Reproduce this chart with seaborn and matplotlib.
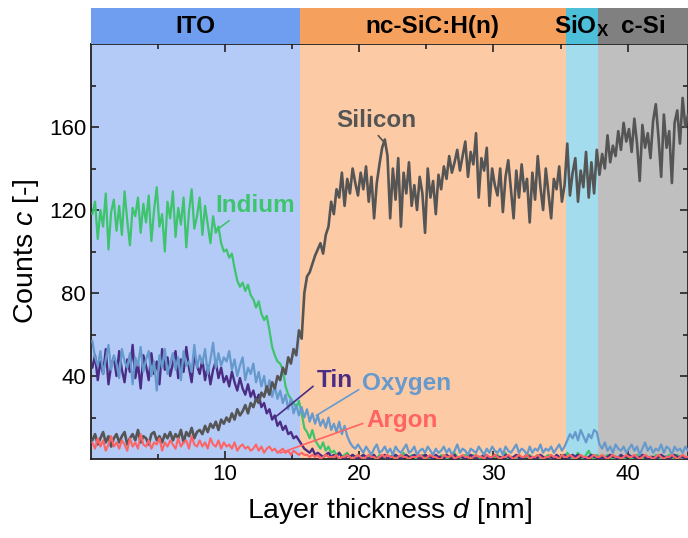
import numpy as np
import pandas as pd
import matplotlib
matplotlib.use("Agg")
import matplotlib.pyplot as plt
import seaborn as sns

# ---- depth profile data (counts vs. layer thickness) ----
depth_start, depth_step, n_points = 0.1, 0.2, 223
depth = np.round(depth_start + depth_step * np.arange(n_points), 2)

silicon = [
    9, 12, 7, 10, 13, 8, 11, 6, 10, 12,
    8, 11, 13, 7, 10, 12, 9, 14, 8, 11,
    10, 7, 12, 13, 9, 11, 8, 12, 10, 13,
    9, 12, 10, 14, 8, 13, 11, 15, 10, 13,
    14, 12, 16, 13, 17, 15, 18, 14, 19, 17,
    20, 18, 22, 19, 24, 21, 23, 26, 22, 27,
    25, 29, 27, 32, 30, 35, 31, 37, 34, 40,
    38, 44, 41, 49, 46, 53, 50, 62, 58, 80,
    88, 90, 94, 98, 101, 104, 99, 108, 112, 124,
    118, 130, 126, 138, 122, 135, 128, 140, 133, 127,
    138, 130, 141, 124, 136, 116, 133, 142, 150, 154,
    146, 116, 140, 125, 145, 112, 138, 128, 143, 122,
    132, 120, 136, 128, 109, 140, 126, 134, 118, 137,
    130, 141, 135, 146, 138, 143, 149, 139, 146, 153,
    136, 148, 142, 157, 126, 145, 139, 150, 122, 140,
    132, 127, 140, 119, 136, 144, 130, 116, 139, 126,
    142, 129, 135, 114, 138, 125, 146, 131, 120, 140,
    128, 116, 135, 130, 141, 124, 132, 152, 127, 138,
    145, 124, 139, 131, 148, 126, 143, 128, 149, 137,
    147, 140, 156, 143, 151, 146, 158, 149, 162, 153,
    159, 148, 164, 152, 134, 161, 150, 157, 145, 163,
    171, 155, 136, 166, 150, 158, 133, 162, 168, 152,
    174, 160, 166,
]

indium = [
    118, 124, 106, 120, 112, 128, 101, 119, 125, 110,
    122, 108, 129, 115, 103, 121, 117, 126, 109, 123,
    114, 127, 105, 120, 131, 112, 118, 100, 124, 116,
    129, 107, 121, 113, 126, 102, 119, 130, 111, 117,
    126, 108, 122, 113, 104, 117, 109, 112, 104, 100,
    101, 97, 99, 92, 86, 83, 85, 81, 84, 79,
    77, 73, 76, 70, 67, 69, 62, 54, 50, 47,
    46, 43, 35, 31, 29, 27, 25, 28, 22, 15,
    13, 10, 14, 9, 7, 5, 8, 4, 6, 3,
    4, 2, 3, 1, 2, 3, 1, 2, 1, 2,
    1, 2, 0, 1, 3, 1, 0, 2, 1, 1,
    0, 1, 2, 1, 0, 1, 3, 1, 0, 2,
    1, 0, 1, 2, 1, 1, 0, 2, 1, 0,
    2, 1, 0, 1, 1, 3, 1, 0, 1, 2,
    1, 0, 2, 1, 0, 1, 1, 2, 0, 1,
    1, 2, 0, 1, 3, 0, 1, 1, 0, 2,
    0, 1, 1, 2, 0, 1, 2, 0, 1, 1,
    2, 0, 1, 1, 0, 2, 1, 3, 1, 0,
    1, 3, 1, 0, 2, 4, 1, 0, 2, 1,
    0, 1, 2, 1, 0, 1, 1, 2, 0, 1,
    1, 0, 1, 2, 1, 0, 2, 1, 1, 0,
    2, 1, 0, 1, 1, 2, 0, 1, 2, 1,
    0, 1, 1,
]

tin = [
    44, 50, 38, 47, 41, 53, 36, 45, 49, 40,
    52, 43, 37, 48, 42, 55, 39, 46, 34, 50,
    45, 38, 51, 41, 47, 36, 53, 43, 49, 40,
    46, 52, 39, 48, 42, 54, 44, 37, 50, 45,
    41, 48, 38, 45, 36, 43, 47, 39, 44, 37,
    40, 35, 42, 37, 33, 39, 34, 31, 36, 30,
    33, 28, 31, 25, 27, 22, 24, 19, 21, 16,
    18, 14, 16, 12, 13, 10, 11, 9, 7, 5,
    4, 3, 5, 2, 3, 2, 1, 2, 3, 1,
    2, 1, 3, 1, 0, 2, 1, 2, 1, 0,
    1, 2, 1, 0, 1, 2, 0, 1, 1, 2,
    0, 1, 1, 2, 1, 0, 1, 2, 1, 1,
    2, 1, 0, 1, 2, 1, 1, 0, 2, 1,
    1, 0, 2, 1, 1, 2, 0, 1, 1, 0,
    1, 2, 1, 0, 1, 1, 2, 1, 0, 1,
    2, 1, 1, 0, 2, 1, 0, 1, 2, 1,
    0, 1, 2, 1, 1, 0, 1, 2, 1, 0,
    1, 1, 0, 2, 1, 1, 2, 0, 1, 2,
    1, 2, 1, 1, 0, 1, 2, 1, 1, 0,
    1, 0, 1, 2, 1, 1, 0, 2, 1, 1,
    2, 1, 1, 0, 1, 2, 1, 0, 1, 1,
    0, 1, 2, 1, 1, 0, 1, 2, 1, 1,
    1, 0, 1,
]

oxygen = [
    57, 49, 45, 52, 41, 48, 55, 43, 50, 46,
    39, 53, 47, 44, 51, 36, 49, 45, 54, 42,
    48, 52, 40, 47, 33, 50, 44, 53, 41, 46,
    51, 43, 49, 38, 52, 45, 47, 42, 55, 44,
    50, 46, 53, 41, 48, 56, 44, 51, 45, 49,
    47, 52, 43, 48, 40, 45, 49, 38, 44, 41,
    46, 37, 42, 35, 40, 32, 38, 30, 35, 29,
    33, 27, 31, 24, 29, 22, 26, 21, 25, 20,
    24, 18, 22, 17, 21, 16, 19, 15, 20, 14,
    17, 13, 18, 12, 16, 11, 8, 6, 5, 7,
    5, 3, 6, 4, 2, 5, 7, 3, 4, 6,
    3, 5, 2, 6, 4, 3, 5, 7, 3, 4,
    6, 2, 4, 5, 3, 6, 4, 2, 5, 3,
    4, 6, 3, 5, 2, 4, 7, 3, 5, 4,
    2, 5, 4, 3, 6, 4, 2, 5, 3, 6,
    4, 3, 5, 2, 6, 4, 3, 5, 7, 3,
    5, 4, 2, 6, 3, 5, 4, 7, 3, 5,
    4, 6, 3, 5, 7, 4, 6, 9, 12, 10,
    13, 9, 14, 11, 8, 12, 10, 14, 13, 7,
    5, 8, 4, 6, 3, 7, 5, 4, 6, 3,
    5, 7, 4, 6, 2, 5, 8, 4, 6, 3,
    5, 4, 7, 3, 6, 5, 2, 6, 4, 5,
    3, 6, 4,
]

argon = [
    8, 5, 10, 6, 9, 4, 7, 11, 6, 8,
    5, 9, 7, 4, 10, 6, 8, 5, 12, 7,
    6, 9, 5, 8, 7, 10, 4, 8, 6, 9,
    7, 5, 10, 6, 8, 9, 5, 11, 7, 6,
    9, 6, 8, 5, 10, 7, 6, 9, 5, 8,
    6, 7, 5, 8, 4, 6, 7, 5, 6, 4,
    5, 7, 4, 6, 3, 5, 6, 4, 5, 3,
    4, 5, 3, 4, 2, 4, 3, 2, 3, 2,
    2, 1, 2, 1, 2, 0, 1, 2, 1, 1,
    1, 2, 0, 1, 1, 2, 1, 0, 1, 2,
    1, 0, 1, 2, 1, 1, 0, 1, 2, 1,
    2, 1, 1, 0, 1, 2, 1, 1, 0, 1,
    1, 1, 2, 1, 0, 1, 2, 1, 1, 0,
    0, 2, 1, 1, 2, 0, 1, 1, 2, 1,
    1, 0, 1, 2, 1, 1, 0, 2, 1, 1,
    2, 1, 0, 1, 1, 2, 1, 0, 1, 2,
    1, 1, 2, 0, 1, 1, 2, 1, 0, 1,
    1, 2, 1, 1, 0, 2, 1, 1, 2, 1,
    0, 1, 2, 1, 1, 0, 1, 2, 1, 1,
    2, 1, 0, 1, 2, 1, 1, 0, 1, 2,
    1, 1, 2, 1, 0, 1, 2, 1, 1, 0,
    1, 2, 1, 0, 1, 1, 2, 1, 0, 1,
    2, 1, 1,
]

# layer stack: names and boundaries in nm
layer_names = ["ITO", "nc-SiC:H(n)", r"SiO$_\mathbf{X}$", "c-Si"]
layer_edges = [0.0, 15.55, 35.4, 37.8, 44.5]
layer_header_colors = ["#6F9EF0", "#F6A05E", "#4EBFD9", "#808080"]
layer_fill_colors = ["#B4CBF8", "#FCCBA6", "#A3DCEC", "#BFBFBF"]

x_ticks = [10, 20, 30, 40]
y_ticks = [40, 80, 120, 160]

elements = ["Indium", "Tin", "Oxygen", "Silicon", "Argon"]
series = {"Indium": indium, "Tin": tin, "Oxygen": oxygen,
          "Silicon": silicon, "Argon": argon}
colors = {"Indium": "#3DC46C", "Tin": "#4A2C85", "Oxygen": "#6699CC",
          "Silicon": "#555555", "Argon": "#FF6363"}
widths = {"Indium": 1.6, "Tin": 1.7, "Oxygen": 1.6, "Silicon": 1.9,
          "Argon": 1.5}

df = pd.DataFrame({
    "depth": np.tile(depth, len(elements)),
    "counts": np.concatenate([series[e] for e in elements]),
    "element": np.repeat(elements, len(depth)),
})

# ---- style ----
sns.set_theme(style="ticks")
plt.rcParams["font.family"] = ["Liberation Sans", "DejaVu Sans"]
plt.rcParams["mathtext.fontset"] = "custom"
plt.rcParams["mathtext.rm"] = "Liberation Sans"
plt.rcParams["mathtext.it"] = "Liberation Sans:italic"
plt.rcParams["mathtext.bf"] = "Liberation Sans:bold"
plt.rcParams["text.color"] = "black"
plt.rcParams["axes.labelcolor"] = "black"
plt.rcParams["xtick.color"] = "black"
plt.rcParams["ytick.color"] = "black"

fig = plt.figure(figsize=(6.88, 5.38), dpi=100)
ax = fig.add_axes([0.1323, 0.1468, 0.8677, 0.7714])
hdr = fig.add_axes([0.1323, 0.9182, 0.8677, 0.0669], sharex=ax)

# layer backgrounds
for i in range(len(layer_names)):
    ax.axvspan(layer_edges[i], layer_edges[i + 1], color=layer_fill_colors[i],
               lw=0, zorder=0)
    hdr.axvspan(layer_edges[i], layer_edges[i + 1], color=layer_header_colors[i],
                lw=0, zorder=0)
    hdr.text((layer_edges[i] + layer_edges[i + 1]) / 2, 0.5, layer_names[i],
             ha="center", va="center", fontsize=17.5, fontweight="bold",
             color="black", transform=hdr.get_xaxis_transform())

# depth profiles
for e in elements:
    sub = df[df["element"] == e]
    sns.lineplot(data=sub, x="depth", y="counts", color=colors[e],
                 lw=widths[e], ax=ax, estimator=None, sort=False,
                 legend=False, zorder=3)

ax.set_xlim(0, 44.5)
ax.set_ylim(0, 200)
ax.set_xticks(x_ticks)
ax.set_yticks(y_ticks)
ax.set_xticks([5, 15, 25, 35], minor=True)
ax.set_yticks([20, 60, 100, 140, 180], minor=True)
ax.tick_params(which="both", direction="in", top=True, right=True,
               labelsize=16, width=1.2, color="#222222")
ax.tick_params(which="major", length=6)
ax.tick_params(which="minor", length=3.5)
for s in ax.spines.values():
    s.set_linewidth(1.3)
    s.set_color("#222222")
ax.set_xlabel(r"Layer thickness $d$ [nm]", fontsize=20.5, labelpad=8)
ax.set_ylabel(r"Counts $c$ [-]", fontsize=20.5, labelpad=6)

hdr.set_ylim(0, 1)
hdr.set_axis_off()

# element labels with leader lines
labels = [
    ("Indium", (9.5, 111), (9.25, 122), "left", (0.25, 0.05)),
    ("Silicon", (21.8, 153), (21.3, 163), "center", (0.47, 0.05)),
    ("Tin", (13.7, 20), (16.8, 38), "left", (0.0, 0.35)),
    ("Oxygen", (16.8, 21), (20.2, 36.6), "left", (0.0, 0.3)),
    ("Argon", (14.1, 2.9), (20.5, 18.8), "left", (0.0, 0.4)),
]
for name, tip, pos, ha, rp in labels:
    ax.annotate(name, xy=tip, xytext=pos, ha=ha, va="center",
                fontsize=17.5, fontweight="bold", color=colors[name],
                arrowprops=dict(arrowstyle="-", color=colors[name], lw=1.2,
                                relpos=rp, shrinkA=0, shrinkB=0),
                zorder=5)

fig.savefig("out.png", dpi=100)
